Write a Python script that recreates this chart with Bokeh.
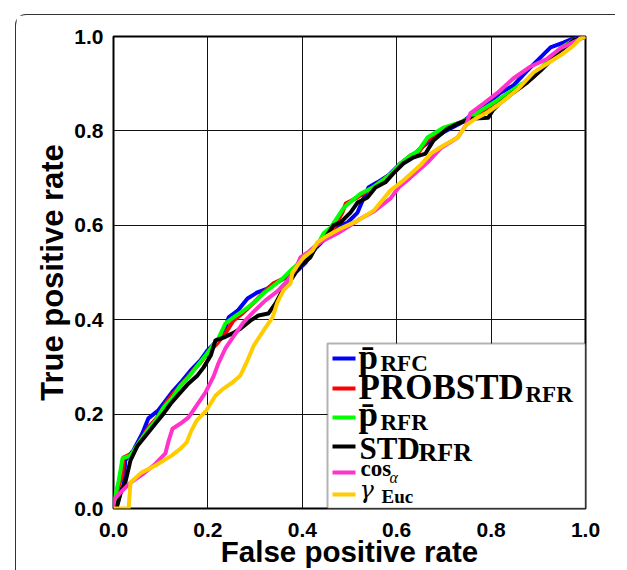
from bokeh.plotting import figure
from bokeh.models import (Range1d, FixedTicker, BoxAnnotation, Label, PrintfTickFormatter)
from bokeh.embed import file_html
from bokeh.resources import INLINE

# ---------------- data ----------------
xticks = [0.0, 0.2, 0.4, 0.6, 0.8, 1.0]
yticks = [0.0, 0.2, 0.4, 0.6, 0.8, 1.0]

fpr_p_rfc = [0.000, 0.004, 0.021, 0.025, 0.042, 0.061, 0.074, 0.095, 0.114, 0.127, 0.146, 0.163,
             0.184, 0.199, 0.216, 0.233, 0.244, 0.263, 0.284, 0.305, 0.326, 0.347, 0.369, 0.390,
             0.407, 0.424, 0.445, 0.466, 0.496, 0.517, 0.528, 0.540, 0.559, 0.583, 0.608, 0.629,
             0.650, 0.672, 0.699, 0.735, 0.771, 0.799, 0.820, 0.847, 0.877, 0.909, 0.926, 0.953,
             0.979, 1.000]
tpr_p_rfc = [0.000, 0.017, 0.049, 0.102, 0.123, 0.159, 0.191, 0.208, 0.233, 0.250, 0.271, 0.292,
             0.314, 0.335, 0.352, 0.371, 0.405, 0.419, 0.445, 0.458, 0.466, 0.479, 0.492, 0.504,
             0.521, 0.547, 0.568, 0.593, 0.606, 0.627, 0.653, 0.680, 0.691, 0.706, 0.731, 0.742,
             0.763, 0.780, 0.797, 0.816, 0.843, 0.864, 0.881, 0.896, 0.928, 0.960, 0.977, 0.987,
             0.998, 1.000]

fpr_probstd = [0.000, 0.004, 0.019, 0.021, 0.040, 0.057, 0.074, 0.093, 0.110, 0.127, 0.146, 0.163,
               0.184, 0.201, 0.220, 0.237, 0.254, 0.275, 0.297, 0.318, 0.339, 0.360, 0.381, 0.403,
               0.424, 0.445, 0.466, 0.485, 0.492, 0.517, 0.549, 0.570, 0.591, 0.608, 0.629, 0.646,
               0.665, 0.699, 0.735, 0.756, 0.784, 0.820, 0.847, 0.862, 0.890, 0.919, 0.947, 0.975,
               1.000]
tpr_probstd = [0.000, 0.023, 0.074, 0.108, 0.117, 0.144, 0.172, 0.193, 0.222, 0.244, 0.265, 0.286,
               0.309, 0.331, 0.350, 0.371, 0.398, 0.415, 0.436, 0.458, 0.477, 0.487, 0.504, 0.521,
               0.547, 0.574, 0.593, 0.627, 0.646, 0.659, 0.680, 0.695, 0.712, 0.731, 0.748, 0.754,
               0.780, 0.805, 0.818, 0.826, 0.843, 0.869, 0.886, 0.892, 0.915, 0.947, 0.975, 0.992,
               1.000]

fpr_p_rfr = [0.000, 0.004, 0.011, 0.019, 0.036, 0.053, 0.072, 0.089, 0.106, 0.125, 0.142, 0.159,
             0.178, 0.195, 0.210, 0.222, 0.237, 0.254, 0.275, 0.297, 0.318, 0.339, 0.358, 0.375,
             0.392, 0.407, 0.428, 0.445, 0.460, 0.487, 0.498, 0.523, 0.549, 0.570, 0.591, 0.608,
             0.629, 0.646, 0.665, 0.699, 0.735, 0.756, 0.784, 0.820, 0.856, 0.890, 0.919, 0.947,
             0.975, 1.000]
tpr_p_rfr = [0.000, 0.028, 0.059, 0.106, 0.112, 0.138, 0.165, 0.186, 0.214, 0.235, 0.261, 0.278,
             0.303, 0.324, 0.345, 0.360, 0.392, 0.405, 0.419, 0.436, 0.456, 0.472, 0.487, 0.504,
             0.519, 0.530, 0.551, 0.583, 0.595, 0.636, 0.646, 0.667, 0.680, 0.695, 0.712, 0.731,
             0.748, 0.758, 0.786, 0.807, 0.818, 0.828, 0.847, 0.869, 0.894, 0.915, 0.947, 0.975,
             0.992, 1.000]

fpr_std = [0.000, 0.008, 0.015, 0.025, 0.036, 0.051, 0.072, 0.089, 0.106, 0.121, 0.142, 0.159,
           0.178, 0.191, 0.206, 0.216, 0.233, 0.252, 0.269, 0.290, 0.307, 0.328, 0.343, 0.358,
           0.379, 0.396, 0.417, 0.428, 0.449, 0.466, 0.481, 0.502, 0.517, 0.538, 0.555, 0.576,
           0.593, 0.614, 0.636, 0.661, 0.678, 0.708, 0.731, 0.756, 0.794, 0.803, 0.820, 0.847,
           0.877, 0.905, 0.926, 0.947, 0.975, 1.000]
tpr_std = [0.000, 0.006, 0.032, 0.055, 0.102, 0.133, 0.159, 0.180, 0.201, 0.222, 0.246, 0.265,
           0.282, 0.299, 0.324, 0.356, 0.362, 0.371, 0.381, 0.398, 0.409, 0.413, 0.434, 0.462,
           0.489, 0.515, 0.532, 0.553, 0.574, 0.600, 0.606, 0.627, 0.648, 0.659, 0.680, 0.691,
           0.710, 0.731, 0.744, 0.752, 0.780, 0.805, 0.816, 0.826, 0.828, 0.843, 0.860, 0.881,
           0.903, 0.928, 0.949, 0.970, 0.992, 1.000]

fpr_cos = [0.000, 0.000, 0.015, 0.036, 0.064, 0.089, 0.110, 0.117, 0.125, 0.142, 0.159, 0.176,
           0.195, 0.212, 0.222, 0.237, 0.254, 0.275, 0.297, 0.322, 0.347, 0.369, 0.386, 0.396,
           0.411, 0.424, 0.445, 0.475, 0.502, 0.523, 0.551, 0.587, 0.604, 0.629, 0.665, 0.693,
           0.729, 0.746, 0.756, 0.784, 0.814, 0.847, 0.883, 0.919, 0.947, 0.968, 1.000]
tpr_cos = [0.000, 0.017, 0.034, 0.055, 0.074, 0.095, 0.117, 0.144, 0.169, 0.180, 0.193, 0.218,
           0.246, 0.280, 0.307, 0.339, 0.364, 0.394, 0.417, 0.441, 0.460, 0.483, 0.508, 0.532,
           0.542, 0.553, 0.568, 0.583, 0.600, 0.614, 0.629, 0.657, 0.680, 0.701, 0.733, 0.763,
           0.786, 0.811, 0.837, 0.858, 0.881, 0.911, 0.936, 0.953, 0.975, 0.985, 1.000]

fpr_euc = [0.000, 0.032, 0.036, 0.059, 0.089, 0.123, 0.142, 0.155, 0.165, 0.176, 0.197, 0.216,
           0.233, 0.252, 0.269, 0.284, 0.297, 0.322, 0.337, 0.347, 0.360, 0.375, 0.379, 0.390,
           0.403, 0.422, 0.432, 0.453, 0.481, 0.517, 0.551, 0.587, 0.614, 0.650, 0.672, 0.699,
           0.729, 0.746, 0.767, 0.792, 0.814, 0.835, 0.858, 0.890, 0.926, 0.953, 0.975, 0.989,
           1.000]
tpr_euc = [0.000, 0.000, 0.055, 0.076, 0.091, 0.112, 0.127, 0.140, 0.165, 0.186, 0.208, 0.239,
           0.254, 0.267, 0.282, 0.314, 0.345, 0.383, 0.405, 0.436, 0.462, 0.477, 0.500, 0.515,
           0.532, 0.547, 0.564, 0.578, 0.593, 0.610, 0.631, 0.674, 0.695, 0.727, 0.752, 0.769,
           0.786, 0.811, 0.826, 0.839, 0.854, 0.871, 0.890, 0.924, 0.947, 0.964, 0.981, 0.996,
           1.000]

series = [
    (fpr_p_rfc, tpr_p_rfc, "#0000ff"),
    (fpr_probstd, tpr_probstd, "#ff0000"),
    (fpr_p_rfr, tpr_p_rfr, "#00ff00"),
    (fpr_std, tpr_std, "#000000"),
    (fpr_cos, tpr_cos, "#ff33cc"),
    (fpr_euc, tpr_euc, "#ffcc00"),
]

# legend rows: (colour, main text, main font, main style, main size, sub text, sub font, sub style, sub size)
legend_rows = [
    ("#0000ff", "p\u0304", "Liberation Serif", "bold", 35, "RFC", "Liberation Serif", "bold", 23),
    ("#ff0000", "PROBSTD", "Liberation Serif", "bold", 35, "RFR", "Liberation Serif", "bold", 23),
    ("#00ff00", "p\u0304", "Liberation Serif", "bold", 35, "RFR", "Liberation Serif", "bold", 23),
    ("#000000", "STD", "Liberation Serif", "bold", 31, "RFR", "Liberation Serif", "bold", 26),
    ("#ff33cc", "cos", "Liberation Serif", "bold", 23, "\u03b1", "Liberation Serif", "italic", 16),
    ("#ffcc00", "\u03b3", "DejaVu Serif", "italic", 24, "Euc", "Liberation Serif", "bold", 19),
]

# ---------------- figure ----------------
p = figure(frame_width=472, frame_height=472,
           x_range=Range1d(0, 1), y_range=Range1d(0, 1),
           min_border_left=97, min_border_top=21, min_border_right=30, min_border_bottom=62,
           output_backend="svg", toolbar_location=None)
p.styles = {"margin-left": "15px", "margin-top": "14px",
            "border-top": "1px solid #333333", "border-left": "1px solid #333333",
            "border-top-left-radius": "11px"}
p.background_fill_color = "white"
p.border_fill_color = "white"
p.outline_line_color = "black"
p.outline_line_width = 2

for ax, ticks in ((p.xaxis[0], xticks), (p.yaxis[0], yticks)):
    ax.ticker = FixedTicker(ticks=ticks)
    ax.formatter = PrintfTickFormatter(format="%.1f")
    ax.axis_line_color = None
    ax.major_tick_out = 0
    ax.major_tick_in = 0
    ax.minor_tick_line_color = None
    ax.major_label_text_font = "Liberation Sans"
    ax.major_label_text_font_style = "bold"
    ax.major_label_text_font_size = "21px"
    ax.major_label_text_color = "black"
    ax.axis_label_text_font = "Liberation Sans"
    ax.axis_label_text_font_style = "bold"
    ax.axis_label_text_color = "black"

p.yaxis.major_label_standoff = 10
p.yaxis.axis_label = "True positive rate"
p.yaxis.axis_label_text_font_size = "31px"
p.yaxis.axis_label_standoff = 1
p.xaxis.major_label_standoff = 14
p.xaxis.axis_label = "False positive rate"
p.xaxis.axis_label_text_font_size = "29.5px"
p.xaxis.axis_label_standoff = -5

for g, ticks in ((p.xgrid[0], xticks), (p.ygrid[0], yticks)):
    g.ticker = FixedTicker(ticks=ticks)
    g.grid_line_color = "#111111"
    g.grid_line_width = 1

# curves
for fx, fy, col in series:
    p.line(fx, fy, line_color=col, line_width=4, line_join="round")

scr = dict(left_units="screen", right_units="screen", top_units="screen", bottom_units="screen")

# legend box
p.add_layout(BoxAnnotation(left=214, right=472, top=165, bottom=0, fill_color="white",
                           fill_alpha=1.0, line_color="black", line_width=2, **scr))

row_y = [150, 120, 91, 62, 36, 14]
main_pos = [(245, 151), (245, 121), (245, 94), (246, 60), (247, 40), (246, 19)]
sub_pos = [(267, 145), (412, 114), (267, 86), (305, 56), (276, 31), (268, 12)]

for (col, mt, mf, ms, mz, st, sf, ss, sz), yc, (mx, my), (sx, sy) in zip(legend_rows, row_y, main_pos, sub_pos):
    p.add_layout(BoxAnnotation(left=219, right=242, top=yc + 2, bottom=yc - 2,
                               fill_color=col, fill_alpha=1.0, line_color=None, **scr))
    p.add_layout(Label(x=mx, y=my, x_units="screen", y_units="screen", text=mt,
                       text_font=mf, text_font_style=ms,
                       text_font_size=f"{mz}px", text_color="black",
                       text_baseline="alphabetic", text_align="left"))
    p.add_layout(Label(x=sx, y=sy, x_units="screen", y_units="screen", text=st,
                       text_font=sf, text_font_style=ss,
                       text_font_size=f"{sz}px", text_color="black",
                       text_baseline="alphabetic", text_align="left"))

open("out.html", "w").write(file_html(p, INLINE))
